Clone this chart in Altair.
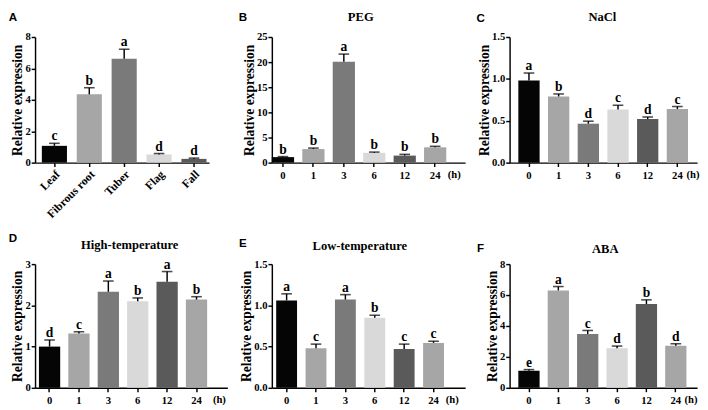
import altair as alt
import pandas as pd

# ---------------- data ----------------
tissues = ["Leaf", "Fibrous root", "Tuber", "Flag", "Fall"]
tissue_mean = [1.07, 4.35, 6.62, 0.52, 0.24]
tissue_err = [0.16, 0.42, 0.6, 0.06, 0.05]
tissue_sig = ["c", "b", "a", "d", "d"]

hours = ["0", "1", "3", "6", "12", "24"]
hour_unit = "(h)"

peg_mean = [1.1, 2.7, 20.1, 1.95, 1.4, 3.05]
peg_err = [0.1, 0.2, 1.5, 0.15, 0.25, 0.2]
peg_sig = ["b", "b", "a", "b", "b", "b"]

nacl_mean = [0.98, 0.79, 0.465, 0.635, 0.52, 0.64]
nacl_err = [0.09, 0.03, 0.03, 0.05, 0.025, 0.03]
nacl_sig = ["a", "b", "d", "c", "d", "c"]

heat_mean = [1.0, 1.32, 2.33, 2.1, 2.57, 2.14]
heat_err = [0.16, 0.04, 0.26, 0.08, 0.25, 0.07]
heat_sig = ["d", "c", "a", "b", "a", "b"]

cold_mean = [1.06, 0.48, 1.07, 0.85, 0.47, 0.545]
cold_err = [0.08, 0.05, 0.06, 0.03, 0.06, 0.02]
cold_sig = ["a", "c", "a", "b", "c", "c"]

aba_mean = [1.1, 6.3, 3.48, 2.56, 5.42, 2.72]
aba_err = [0.08, 0.25, 0.23, 0.14, 0.27, 0.13]
aba_sig = ["e", "a", "c", "d", "b", "d"]

panel_letters = ["A", "B", "C", "D", "E", "F"]
panel_names = ["", "PEG", "NaCl", "High-temperature", "Low-temperature", "ABA"]

# ---------------- styles ----------------
SERIF = "Liberation Serif"
SANS = "Liberation Sans"
tissue_palette = ["#050505", "#a6a6a6", "#7a7a7a", "#d9d9d9", "#5a5a5a"]
hour_palette = ["#050505", "#a6a6a6", "#7a7a7a", "#d9d9d9", "#5a5a5a", "#a6a6a6"]


def panel(cats, means, errs, sigs, palette, letter, name, ymax, yticks, yfmt,
          width, height, pi, po, align, hx=None, rot=False,
          lx=-23, ly=-19, tx=None, ty=-19):
    df = pd.DataFrame({
        "cat": cats,
        "mean": means,
        "top": [m + e for m, e in zip(means, errs)],
        "sig": sigs,
        "fill": palette,
    })
    xaxis = alt.Axis(
        title=None,
        labelAngle=-45 if rot else 0,
        labelFont=SERIF, labelFontWeight="bold", labelFontSize=12 if rot else 11,
        labelColor="black", labelPadding=2 if rot else 3,
        tickSize=4, tickColor="black", tickWidth=1.5,
        domainColor="black", domainWidth=1.5, grid=False,
    )
    xs = alt.X("cat:N", sort=cats,
               scale=alt.Scale(domain=cats, paddingInner=pi, paddingOuter=po, align=align),
               axis=xaxis)
    yaxis = alt.Axis(values=yticks, format=yfmt, title="Relative expression",
                     titleFont=SERIF, titleFontWeight="bold", titleFontSize=14,
                     titleColor="black", titlePadding=0,
                     labelFont=SERIF, labelFontWeight="bold", labelFontSize=11,
                     labelColor="black", labelPadding=1,
                     tickSize=4, tickColor="black", tickWidth=1.5,
                     domainColor="black", domainWidth=1.5, grid=False)
    yscale = alt.Scale(domain=[0, ymax], nice=False)
    base = alt.Chart(df)
    bars = base.mark_bar().encode(
        x=xs,
        y=alt.Y("mean:Q", scale=yscale, axis=yaxis),
        color=alt.Color("fill:N", scale=None),
    )
    rule = base.mark_rule(color="black", strokeWidth=1.5).encode(
        x=xs, y=alt.Y("mean:Q", scale=yscale, axis=yaxis), y2="top:Q")
    cap = base.mark_tick(color="black", thickness=1.6, size=11).encode(
        x=xs, y=alt.Y("top:Q", scale=yscale, axis=yaxis))
    txt = base.mark_text(font=SERIF, fontWeight="bold", fontSize=14,
                         baseline="alphabetic", dy=-3, color="black").encode(
        x=xs, y=alt.Y("top:Q", scale=yscale, axis=yaxis), text="sig:N")
    lab = alt.Chart(pd.DataFrame({"t": [letter]})).mark_text(
        font=SANS, fontWeight="bold", fontSize=12, baseline="middle",
        align="center", color="black").encode(
        x=alt.value(lx), y=alt.value(ly), text="t:N")
    layers = [bars, rule, cap, txt, lab]
    if name:
        ttl = alt.Chart(pd.DataFrame({"t": [name]})).mark_text(
            font=SERIF, fontWeight="bold", fontSize=13, baseline="middle",
            align="center", color="black").encode(
            x=alt.value(tx if tx is not None else width / 2), y=alt.value(ty), text="t:N")
        layers.append(ttl)
    if hx is not None:
        unit = alt.Chart(pd.DataFrame({"t": [hour_unit]})).mark_text(
            font=SERIF, fontWeight="bold", fontSize=11, baseline="middle",
            align="left", color="black").encode(
            x=alt.value(hx), y=alt.value(height + 12.5), text="t:N")
        layers.append(unit)
    return alt.layer(*layers).properties(width=width, height=height)


pA = panel(tissues, tissue_mean, tissue_err, tissue_sig, tissue_palette,
           panel_letters[0], panel_names[0], 8, [0, 2, 4, 6, 8], "d",
           180, 130, 0.28, 0.133, 0.73, rot=True, lx=-23, ly=-21)
pB = panel(hours, peg_mean, peg_err, peg_sig, hour_palette,
           panel_letters[1], panel_names[1], 25, [0, 5, 10, 15, 20, 25], "d",
           200, 130, 0.27, 0.31, 0.0, hx=182, lx=-30, ly=-21, tx=92, ty=-21)
pC = panel(hours, nacl_mean, nacl_err, nacl_sig, hour_palette,
           panel_letters[2], panel_names[2], 1.5, [0, 0.5, 1.0, 1.5], ".1f",
           194, 130, 0.283, 0.30, 0.49, hx=183, lx=-30, ly=-20, tx=96, ty=-21)
pD = panel(hours, heat_mean, heat_err, heat_sig, hour_palette,
           panel_letters[3], panel_names[3], 3, [0, 1, 2, 3], "d",
           199, 128, 0.276, 0.41, 0.16, hx=184, lx=-23, ly=-27, tx=98, ty=-20)
pE = panel(hours, cold_mean, cold_err, cold_sig, hour_palette,
           panel_letters[4], panel_names[4], 1.5, [0, 0.5, 1.0, 1.5], ".1f",
           200, 128, 0.29, 0.434, 0.17, hx=180, lx=-30, ly=-22, tx=91, ty=-19)
pF = panel(hours, aba_mean, aba_err, aba_sig, hour_palette,
           panel_letters[5], panel_names[5], 8, [0, 2, 4, 6, 8], "d",
           194, 128, 0.276, 0.33, 0.45, hx=181, lx=-30, ly=-17, tx=99, ty=-15)

chart = alt.concat(pA, pB, pC, pD, pE, pF, columns=3, bounds="flush",
                   spacing={"row": 105, "column": 46}).properties(
    padding={"left": 0, "top": -4, "right": 0, "bottom": 0}
).configure_view(stroke=None)

chart.save("out.html", embed_options={"renderer": "svg", "actions": False})
